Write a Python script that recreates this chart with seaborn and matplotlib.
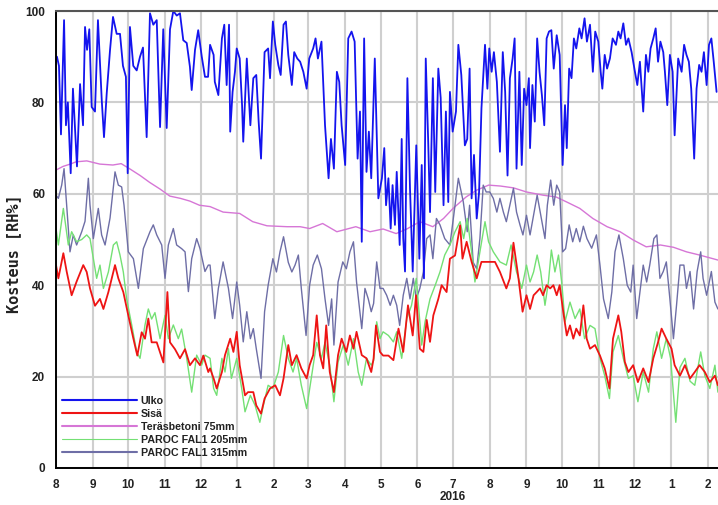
import pandas as pd
import matplotlib
matplotlib.use("Agg")
import matplotlib.pyplot as plt
import matplotlib.dates as mdates
from matplotlib.ticker import MultipleLocator
import seaborn as sns

# Relative humidity readings; days counted from 1 Aug 2015
START = pd.Timestamp("2015-08-01")
END_DAY = 558.6

ulko_day = [0.8, 2.5, 4.2, 6.8, 8.4, 10, 12.4, 14.3, 17.7, 20.3, 22.8, 24.5, 26.2, 28.1, 30.1, 32.9,
            35.4, 38.6, 40.5, 42.8, 45.6, 48.1, 51.2, 54, 56.5, 59, 60.5, 62.4, 65.2, 68.1, 70.9,
            73.4, 76.5, 79.3, 82.1, 85, 87.8, 90.5, 93.4, 96.2, 99, 101.9, 104.6, 107.4, 110.3,
            113, 114.5, 117.3, 120, 123, 125.7, 128.3,
            130, 133, 134, 137, 140, 142, 144, 146, 147, 149, 151, 152.5, 155, 157, 158, 161, 164,
            166.5, 169, 171, 173, 176, 179, 180.6, 183, 185, 187.6, 189.6, 192, 194, 196, 199, 201,
            203.6, 206, 208.7, 211.5, 213.7, 217, 219, 221, 224, 227, 230, 232, 234.5, 237, 239,
            241, 244, 246.6, 249.4, 252, 254.5, 256.5, 258, 260, 262, 264, 266, 269, 272,
            275, 277, 278.5, 280.5, 282.4, 284, 286, 287.5, 290, 291.7, 293, 294.5, 296.5, 298.7,
            301, 304, 306.6, 308.6, 310.5, 312, 314, 315.6, 318, 320, 322.6, 324.6, 327, 329, 331,
            332.4, 334.7, 337.5, 339.5, 342, 345, 347, 349, 350.7, 352.7, 355, 357, 359, 362, 364,
            365.6, 367.6, 369.5, 372, 374.6, 377, 379, 381, 383, 385.3, 387, 388.6, 391, 393, 395,
            397, 399,
            400, 402, 404, 406, 408, 410, 412, 414, 416, 418, 420, 422.5, 425, 427.5, 429.5, 431,
            433, 435, 437, 439, 441.6, 443.5, 446, 448, 450.6, 453, 455, 457.6, 459.6, 461, 463,
            465, 467.4, 469.7, 472.5, 474.5, 476.4, 478.7, 481, 483, 485.7, 488.5, 490.5, 492.7,
            495.5, 497.8, 499.8, 501.7, 504, 506, 508, 510, 512.4, 513.8, 515.8, 518, 520.3, 522,
            525, 527.9, 530, 532, 534, 536, 538.5, 540.5, 542.7, 544.7, 546.7, 549, 551, 553, 555,
            557.4]
ulko_rh = [90, 88, 73, 98, 75, 80, 64.5, 83, 66, 84, 75, 96.5, 91.5, 96, 79, 78,
           98, 80.5, 72.4, 82, 91.5, 98.7, 95, 95, 88, 85.6, 64.5, 96.5, 88, 87, 90,
           92, 72.4, 99.5, 97, 98, 74.6, 96, 74.4, 96, 100, 99, 99.5, 93.6, 93,
           87.8, 82.7, 91.5, 95.8, 90, 85.6, 85.6,
           92.6, 90.4, 84.5, 81.6, 94, 97, 83.8, 97, 73.6, 82.3, 86.7, 91.8, 89.6, 79.4, 71.4, 89.6, 75,
           85.3, 86, 75.8, 67.7, 91, 91.8, 85.3, 97.7, 92.6, 88.2, 86, 97, 97.7, 90.4, 83.8, 91,
           89.6, 88.9, 86.7, 83, 89.6, 91.8, 94, 89.6, 93.3, 75, 63.4, 72, 65.5, 86.7, 84.5,
           75, 66.3, 94, 95.5, 93.3, 67.7, 78, 49.5, 94, 64.8, 73.6, 63.4, 89.6, 59,
           63.4, 70, 57.5, 63.4, 52.4, 61.9, 53.2, 64.8, 48.8, 72, 50.3, 43, 85.3, 61.2,
           43, 70.6, 45.8, 66.3, 41.5, 89.6, 72, 56, 85.3, 60.4, 87.4, 81, 57.5, 78, 58.2,
           82.3, 73.6, 78, 92.6, 86, 70.6, 72, 87.4, 59, 68.5, 54.6, 60.4, 78.7, 92.6, 83,
           91.8, 86.7, 91, 84.5, 69.2, 91, 82.3, 64, 85.3, 89.6, 94, 65.5, 86.7, 66.3, 83,
           79.4, 85.3,
           70, 83.8, 75.8, 94, 86.7, 81.6, 75, 94, 95.5, 95.8, 87.4, 94.7, 90.4, 66.3, 79.4, 70,
           87.4, 85.3, 94, 91.8, 96.2, 94, 98.4, 93.3, 97, 86.7, 95.5, 93.3, 86.7, 83, 90.4,
           87.4, 89.6, 94, 92.6, 95.5, 94, 97.3, 92.6, 94, 91, 86.7, 83.8, 88.9,
           78, 90.4, 86.7, 91.8, 94, 96.2, 88.9, 93.3, 91, 86.7, 79.4, 90.4, 86.7, 72.8,
           89.6, 86.7, 92.6, 90.4, 88.9, 83, 67.7, 83, 88.2, 86.7, 91, 83.8, 92.6, 94, 88.9,
           82.3]

sisa_day = [0, 2, 6.2, 9, 13.2, 17.4, 23, 25.9, 28.7, 32.9, 37.1, 40, 44.2, 49.8, 52.6, 56.8, 61,
            65.3, 68.6, 72.3, 75.1, 77.9, 80.7, 85, 90.6, 94, 96.2, 100.4, 104.6, 108.9, 113, 117.3,
            121.5, 124.3, 128.5,
            130, 133, 135.6, 140, 142.6, 147, 149.7, 152.5, 155, 159.5, 162, 166.5, 169, 173, 176,
            180.6, 185, 189, 192, 196, 199, 203, 207, 211.5, 214, 217, 220, 222.7, 225.5, 228, 231,
            234.5, 238, 241, 245, 248, 251, 253.6, 258, 262, 266,
            268, 270, 273.4, 276, 280.5, 284.7, 289, 293, 297, 301, 303.8, 307, 310, 312.8, 315.6,
            318.4, 322.6, 325.4, 329.6, 332.4, 336.7, 341, 343, 346.5, 350.7, 355, 359, 365, 370.4,
            374.6, 380, 383, 386, 390, 393.7, 397,
            400, 403, 405.6, 408.4, 411, 414, 417, 419.7, 422.5, 425, 428, 431, 433.7, 436.5, 439,
            442, 445, 447.8, 450.6, 454.8, 459, 463, 467, 470, 474.5, 477, 480, 483, 487, 491,
            495.5, 500, 504, 508, 511, 515, 519.4, 522, 526.5, 530.7, 535, 539, 543, 547.5, 551.7,
            556, 558.5]
sisa_rh = [44.4, 41.5, 47, 43, 37.8, 40.8, 44.4, 42.9, 39.3, 35.5, 37, 34.8, 38.5, 44.4, 41.5, 38.5, 33.4,
           28.3, 24.6, 29.7, 28.3, 32.7, 27.5, 27.5, 23.1, 38.5, 27.5, 26, 24, 26, 22.5, 24,
           22.5, 24.6, 21,
           21.8, 19.6, 17.4, 21, 24.7, 28.3, 25.4, 29.8, 22.5, 15.9, 16.6, 16.6, 13.7, 11.9, 15.2,
           17.4, 18.1, 15.9, 19.6, 26.9, 22.5, 24.7, 21.8, 19.6, 22.5, 24.7, 33.4, 24.7, 21.8, 31.2, 21,
           16.6, 24.7, 28.3, 25.4, 29, 26.1, 29.8, 24.7, 24, 21,
           24, 31.2, 25.4, 24.6, 24.6, 23.6, 30.5, 25.4, 35.6, 29, 37.8, 26.1, 25.4, 32.4, 27.6,
           33.4, 37, 40, 38.5, 45.8, 46.5, 53.1, 45.8, 49.5, 45.1, 41.5, 45.1, 45.1, 45.1,
           42.9, 39.3, 41.5, 49.3, 42, 34.2, 37.8,
           34.8, 37.8, 38.5, 39.3, 37.8, 40, 39.3, 40, 37.8, 40, 34.2, 29, 31.2, 28.3, 30.5,
           29, 35.6, 28.3, 26.1, 26.9, 24.6, 21.8, 17.4, 28.3, 33.4, 29.8, 23.2, 21, 22.5, 18.8,
           21.8, 18.8, 24, 27.5, 30.5, 28.3, 26.1, 22.5, 20.2, 22.5, 19.6, 21, 22.5, 21, 18.8,
           20.2, 18.1]

betoni_day = [0, 6, 12, 17, 26, 37, 48, 55, 62, 71, 79, 88, 96, 105, 113, 121, 130, 141, 155, 166,
              178, 195, 206, 214, 225, 237, 253, 265, 276, 287, 296, 307, 318, 327, 335, 346, 355,
              365, 375, 386, 397, 411, 422, 431, 442, 453, 465, 476, 487, 498, 510, 521, 532, 543,
              558.6]
betoni_rh = [65.2, 66, 66.5, 67, 67.2, 66.5, 66.3, 66.6, 65.5, 64, 62.5, 61, 59.5, 59, 58.4, 57.5, 57.2,
             56, 55.7, 53.9, 53, 52.8, 52.8, 52.4, 53.5, 51.7, 52.8, 51.7, 52.3, 51.3, 52.3, 53.9,
             52.8, 54.6, 56.8, 59.3, 60.8, 61.9, 61.7, 61.3, 60.4, 59.7, 59.3, 58.2, 56.8, 54.6,
             52.8, 51.7, 49.9, 48.4, 48.8, 48.3, 47.3, 46.6, 45.5]

fal205_day = [0, 2, 6.2, 10.4, 13.2, 17.4, 21.7, 25.9, 28.7, 31.5, 34.3, 37.1, 40, 44.2, 48.4, 51.2,
              54, 56.8, 59.6, 63.9, 68.1, 70.9, 75.1, 77.9, 80.7, 83.5, 87.8, 92, 94.8, 99, 103.2,
              106, 110.3, 114.5, 118.7, 122.9, 125.7,
              130, 133, 135.6, 140, 142.6, 145.5, 148, 152.5, 156.7, 159.5, 164, 168, 172, 175, 179,
              183, 187.6, 192, 196, 200, 203, 207, 211.5, 215.7, 220, 224, 227, 231, 234.5, 238,
              242.4, 246.6, 251, 255, 258, 262, 266,
              268, 270.6, 273.4, 276, 280.5, 284.7, 287.5, 291.7, 296, 300, 304, 308.6, 311.4,
              315.6, 320, 324, 328, 332.4, 336.7, 341, 344, 347, 350.7, 353.5, 357.7, 362, 365,
              369, 374.6, 380, 384, 388.6, 393, 397,
              400, 403, 406, 409, 412.6, 415.5, 418, 421, 424, 426.7, 429.5, 433.7, 438, 442, 446,
              450.6, 454.8, 459, 463, 467, 470, 474.5, 478.7, 483, 487, 491, 495.5, 500, 504, 507,
              511, 515, 518.6, 523, 526.5, 530.7, 535, 539, 544, 547.5, 551.7, 556, 558.5]
fal205_rh = [52.4, 48.8, 56.8, 48.8, 51.7, 49.5, 50, 51, 50.2, 45.8, 41.5, 44.4, 39.3, 42.9, 48.8, 49.5,
             46.6, 42.9, 37, 31.3, 25.4, 24, 31.3, 34.8, 32.6, 34, 28.3, 33.4, 28.3, 31.3, 28.3,
             30.4, 24, 16.6, 24.7, 22.5, 24.7,
             24, 17.4, 15.9, 24, 21, 26.1, 19.6, 24, 17.4, 12.3, 15.9, 13.7, 10, 13.7, 18.1,
             17.4, 21, 29, 24, 21, 24, 18.1, 13, 20.2, 27.5, 24, 27.5, 22.5, 14.5, 23.2,
             26.9, 22.5, 28.3, 21, 18.1, 24, 22.5,
             23.5, 32, 28.3, 29.8, 29, 27.6, 29.8, 24, 32.7, 35.6, 41.5, 26.9, 32,
             37, 40, 42.9, 46.6, 48.8, 51.7, 53.9, 50.2, 54.6, 47.3, 40.7, 47.3, 53.9, 49.5,
             47.3, 45.1, 44.4, 48.8, 42.9, 39.3, 44.4,
             40.7, 42.9, 46.6, 42.9, 35.6, 40.7, 47.7, 42.9, 46.6, 40.7, 32, 36.3, 32.7, 34.8, 28.3,
             31.2, 30.5, 24, 20.2, 15.2, 25.4, 29, 24, 19.6, 20.2, 14.5, 21, 16.6, 26.1, 29.8,
             24, 28.3, 24, 10, 22, 24, 19, 18.1, 25.4, 20.2, 17.4, 22.5, 16.6]

fal315_day = [0, 2, 4.8, 6.8, 9, 11.8, 14.6, 17.4, 21.7, 24.5, 27.3, 28.7, 31.5, 35.7, 38.5, 41.4,
              45.6, 49.8, 52.6, 55.4, 57.4, 61, 65.3, 69.5, 73.7, 79.3, 82.1, 85, 89.2, 92, 94.8,
              99, 101.8, 106, 108.9, 111.7, 114.5, 118.7, 121.5, 125.7, 128.5,
              130, 134, 137, 141, 145.5, 149, 152.5, 155, 158, 161, 164, 166.5, 169, 173, 176, 179,
              183, 186, 189, 192, 196, 199, 201.7, 204.5, 207, 211, 214, 217, 220.5, 224, 227, 230,
              232.6, 234.5, 238, 242, 245, 248, 251, 253.6, 258, 260.7, 263.5, 266,
              268, 270.6, 273.4, 276, 279, 282, 284.7, 287.5, 290, 293, 296, 298.7, 301.5, 304, 307,
              310, 312.8, 315.6, 318, 321, 324, 328, 332.4, 336.7, 339.5, 343.7, 347, 349, 352,
              355, 357.7, 360.5, 363, 366, 369, 372, 374.6, 377.5, 380, 383, 386, 388.6, 391.5,
              394, 397,
              400, 403, 406, 410, 412.6, 414.6, 417.4, 420, 422.5, 425, 427.5, 430, 433, 436, 439,
              442, 445, 448, 452, 456, 459, 462, 466, 469, 471.7, 475, 478.7, 482, 485, 487, 490,
              492.7, 495.5, 498.4, 501, 504.5, 507, 509.6, 512.4, 515, 518, 521, 523.6, 526.5,
              529.8, 532, 535, 538, 541, 544, 546, 549, 553, 556, 558.5]
fal315_rh = [59.7, 59, 61.9, 65.5, 57.5, 47.3, 51, 48.8, 51.7, 54, 63.4, 57.5, 50.2, 56.8, 51, 48.8,
             54.7, 64.8, 61.9, 61.5, 57.5, 47.3, 45.8, 39.3, 48, 51.7, 53.2, 51, 48.8, 41.5, 48.8,
             52.4, 48.8, 48, 47.3, 38.6, 45.8, 50.2, 48, 43, 44.4,
             44.4, 32.7, 39.3, 45.1, 39.3, 32.7, 40.7, 35.6, 27.6, 34.2, 28.3, 30.5, 26.1, 19.6, 34.2, 40,
             45.8, 42.9, 47.3, 50.6, 45, 42.9, 44.4, 46.6, 39.3, 29, 40, 44.4, 46.6, 43.6, 37, 31.2,
             37, 26.9, 40.7, 45.1, 43.6, 47.3, 49.5, 40.7, 30.5, 39.3, 37, 34.2,
             36, 45.1, 39.3, 39.3, 37.8, 35.6, 37.8, 35.6, 31.2, 37.8, 41.5, 37, 41.5, 37, 39.3,
             42.9, 50.2, 51, 45.8, 54.6, 53.2, 50.2, 48.8, 57.5, 63.4, 58.2, 51.7, 57.5, 45,
             43.6, 50.2, 61.9, 60.4, 60.4, 59, 56, 59, 56, 53.9, 57.5, 61.2, 56, 53.2,
             51, 55.3,
             51, 55.3, 59.7, 53.9, 50.2, 57.5, 63, 57.5, 61.9, 60.4, 47.3, 48, 53.2, 49.5, 52.4,
             49.5, 52.9, 50.2, 48.1, 51, 44.4, 37, 32.7, 38.5, 47.3, 51, 45.8, 40, 38.5, 44.4, 32.7,
             38.5, 44.4, 40.7, 44.4, 50.2, 51, 41.5, 43, 45.1, 37, 28.3, 35.6, 44.4,
             44.4, 39.3, 43, 34.8, 43, 47.3, 41.5, 37.8, 43, 36.3, 34.8]

month_labels = ["8", "9", "10", "11", "12", "1", "2", "3", "4", "5", "6", "7",
                "8", "9", "10", "11", "12", "1", "2"]
year_label = "2016"
y_ticks = [0, 20, 40, 60, 80, 100]

series = [
    ("Ulko", ulko_day, ulko_rh, "#1414ee", 1.3, 2.5),
    ("Sisä", sisa_day, sisa_rh, "#ee1414", 1.3, 2.4),
    ("Teräsbetoni 75mm", betoni_day, betoni_rh, "#d676d6", 1.0, 2.1),
    ("PAROC FAL1 205mm", fal205_day, fal205_rh, "#74e074", 1.0, 2.3),
    ("PAROC FAL1 315mm", fal315_day, fal315_rh, "#6e6ea6", 1.0, 2.2),
]
legend_widths = [1.5, 1.5, 1.5, 0.8, 1.5]

sns.set_style("white")
plt.rcParams["font.family"] = ["Liberation Sans", "DejaVu Sans"]

fig = plt.figure(figsize=(7.18, 5.05), dpi=100)
ax = fig.add_axes([56 / 718, 37 / 505, 662 / 718, 457 / 505])

handles = []
for name, days, vals, color, lw, z in series:
    when = START + pd.to_timedelta(days, unit="D")
    sns.lineplot(x=when, y=vals, ax=ax, color=color, linewidth=lw, label=name,
                 zorder=z, sort=False, estimator=None)
    handles.append(ax.get_lines()[-1])

ax.set_xlim(START, START + pd.Timedelta(days=END_DAY))
ax.set_ylim(0, 100)

month_ticks = pd.date_range("2015-08-01", periods=len(month_labels), freq="MS")
ax.set_xticks(month_ticks)
ax.set_xticklabels(month_labels)
ax.set_yticks(y_ticks)
ax.yaxis.set_minor_locator(MultipleLocator(10))

ax.set_axisbelow(True)
ax.grid(True, which="major", color="#cfcfcf", linewidth=1.5)
ax.tick_params(axis="both", which="major", direction="inout", length=11.5, width=1.1,
               color="black", labelsize=8.5, labelcolor="#222222", pad=2)
ax.tick_params(axis="y", which="minor", direction="inout", length=5.8, width=1.1, color="black")
for lab in ax.get_xticklabels() + ax.get_yticklabels():
    lab.set_fontweight("bold")

for side in ("left", "bottom"):
    ax.spines[side].set_color("black")
    ax.spines[side].set_linewidth(1.4)
ax.spines["top"].set_color("#555555")
ax.spines["top"].set_linewidth(1.5)
ax.spines["right"].set_visible(False)

ax.set_xlabel("")
ax.set_ylabel("Kosteus [RH%]", fontfamily="DejaVu Sans Mono", fontweight="bold",
              fontsize=11, color="#222222")
ax.yaxis.set_label_coords(-0.052, 0.468)

ax.text(mdates.date2num(pd.Timestamp("2016-07-01")), -0.063, year_label,
        transform=ax.get_xaxis_transform(), ha="center", va="center",
        fontweight="bold", fontsize=8.5, color="#222222")

leg = ax.legend(handles, [s[0] for s in series], loc="upper left",
                bbox_to_anchor=(0.009, 0.158), frameon=False, handlelength=7.0,
                handletextpad=0.37, labelspacing=0.28, borderpad=0, borderaxespad=0,
                prop={"family": "Liberation Sans", "weight": "bold", "size": 7.7})
for line, w in zip(leg.get_lines(), legend_widths):
    line.set_linewidth(w)
for t in leg.get_texts():
    t.set_color("#222222")

fig.savefig("out.png", dpi=100)
